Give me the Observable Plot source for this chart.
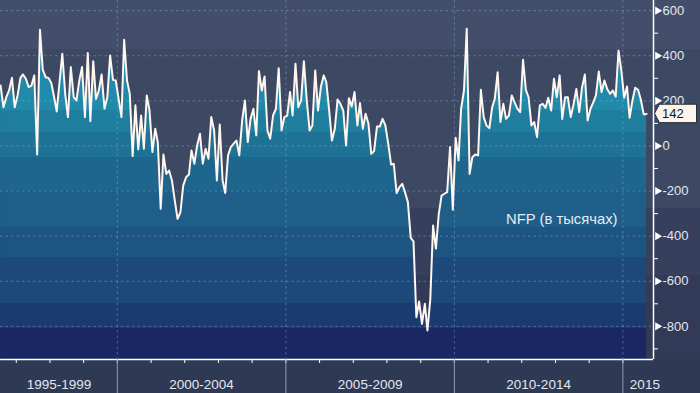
<!DOCTYPE html>
<html><head><meta charset="utf-8">
<script src="https://cdn.jsdelivr.net/npm/d3@7"></script>
<script src="https://cdn.jsdelivr.net/npm/@observablehq/plot@0.6"></script>
<style>html,body{margin:0;padding:0;background:#2e3954;overflow:hidden}</style>
</head><body><div id="chart"></div>
<script>
// Monthly NFP change (thousands), July 1996 – September 2015
const nfp1996 = [268,172,217,246,302,172];
const nfp1997 = [224,302,317,298,261,268,313,-38,515,338,305,302];
const nfp1998 = [279,217,153,283,409,231,128,350,217,202,290,350];
const nfp1999 = [128,412,110,376,209,246,317,165,217,401,293,290];
const nfp2000 = [209,128,471,290,231,-45,180,-15,135,-12,224,158];
const nfp2001 = [-27,76,16,-279,-38,-124,-109,-153,-242,-323,-294,-176];
const nfp2002 = [-139,-127,-20,-79,2,54,-79,-13,-57,128,69,-153];
const nfp2003 = [95,-153,-209,-42,-5,10,24,-42,113,202,17,120];
const nfp2004 = [165,47,332,246,308,69,32,135,165,345,69,128];
const nfp2005 = [135,239,135,364,172,202,376,202,69,91,335,157];
const nfp2006 = [261,313,283,157,24,76,206,187,157,2,212,175];
const nfp2007 = [239,91,190,76,143,98,-35,-23,86,86,120,91];
const nfp2008 = [10,-82,-79,-209,-183,-168,-205,-249,-408,-423,-760,-690];
const nfp2009 = [-789,-700,-818,-680,-353,-455,-305,-220,-212,-205,-5,-283];
const nfp2010 = [36,-64,165,246,520,-124,-50,-38,-42,249,128,91];
const nfp2011 = [79,172,209,327,106,187,120,135,224,194,165,150];
const nfp2012 = [382,249,216,91,106,39,180,187,169,214,157,298];
const nfp2013 = [216,313,120,216,216,128,184,253,150,258,317,113];
const nfp2014 = [165,194,224,330,239,290,253,231,246,219,423,335];
const nfp2015 = [214,264,125,202,258,249,205,140,142];

const startYear = 1996, startMonth = 7;
const periodLabels = ["1995-1999","2000-2004","2005-2009","2010-2014","2015"];
const periodStarts = [1995,2000,2005,2010,2015];
const yTicksMajor = [600,400,200,0,-200,-400,-600,-800];
const yTicksMinor = [500,300,100,-100,-300,-500,-700,-900];
const seriesLabel = "NFP (в тысячах)";

const values = [].concat(nfp1996,nfp1997,nfp1998,nfp1999,nfp2000,nfp2001,nfp2002,nfp2003,nfp2004,
  nfp2005,nfp2006,nfp2007,nfp2008,nfp2009,nfp2010,nfp2011,nfp2012,nfp2013,nfp2014,nfp2015);
const data = values.map((v,i)=>({date:new Date(Date.UTC(startYear,startMonth-1+i,15)), value:v}));
const lastValue = values[values.length-1];

// styling / layout
const W=700,H=393,mB=34,mR=47;
const x0 = new Date(Date.UTC(1996,6,14)), x1 = new Date(Date.UTC(2015,10,29));
const yMin=-947, yMax=645;
const font = "Liberation Sans, Arial, sans-serif";
const bgBands = [[Infinity,"#434f6a"],[428,"#3d4863"],[-277,"#363f5b"],[-574,"#313a56"]];
const tealBands = [[Infinity,"#2189a9"],[157,"#1f7d9e"],[60,"#1e7296"],[-51,"#1e668e"],[-197,"#1e5e88"],
  [-361,"#1d5582"],[-494,"#1c497a"],[-698,"#1b3b70"],[-809,"#1a2762"]];

const mid=(a,b)=>new Date((a.getTime()+b.getTime())/2);
const periods = periodLabels.map((label,i)=>{
  const s=new Date(Date.UTC(periodStarts[i],0,1)), e=new Date(Date.UTC(periodStarts[i]+5,0,1));
  return {label, start:s, end:e, x: mid(s<x0?x0:s, e)};
});
const fullPeriods = periods.filter(p=>p.end<=x1);
const partialPeriods = periods.filter(p=>p.end>x1);
const yearTicks = d3.utcYear.range(x0,x1);
const boundaries = periodStarts.map(y=>new Date(Date.UTC(y,0,1))).filter(d=>d>x0);
const grid = {stroke:"#86bde0", strokeOpacity:0.42, strokeDasharray:"2.5,3"};

const plot = Plot.plot({
  width:W, height:H, marginTop:0, marginLeft:0, marginRight:mR, marginBottom:mB,
  style:{background:"transparent", fontFamily:font, overflow:"visible"},
  x:{type:"utc", domain:[x0,x1], axis:null},
  y:{domain:[yMin,yMax], axis:null},
  marks:[
    Plot.areaY(data,{x:"date", y1:yMin, y2:"value", fill:"url(#tealBands)"}),
    Plot.ruleY(yTicksMajor,grid),
    Plot.ruleX(boundaries,grid),
    Plot.lineY(data,{x:"date", y:"value", stroke:"#fff6ef", strokeWidth:2, strokeLinejoin:"round"}),
    Plot.ruleY([yMin],{stroke:"#ffffff", strokeWidth:1.5}),
    Plot.ruleX([x1],{stroke:"#ffffff", strokeWidth:1.5}),
    Plot.ruleX(yearTicks,{stroke:"#ffffff", insetTop:H-mB, insetBottom:-4}),
    Plot.ruleX(boundaries,{stroke:"#959db0", insetTop:H-mB, insetBottom:-mB}),
    Plot.axisY({anchor:"right", label:null, ticks:yTicksMinor, tickSize:4, tickFormat:()=>"", color:"#ffffff"}),
    Plot.axisY({anchor:"right", label:null, ticks:yTicksMajor, tickSize:0, tickPadding:9, fontSize:13,
      tickFormat:d=>d<0?"-"+(-d):String(d), fill:"#e4e8ef"}),
    Plot.dot(yTicksMajor,{x:()=>x1, y:d=>d, symbol:"triangle", r:3, rotate:90, fill:"#ffffff", dx:4}),
    Plot.text(fullPeriods,{x:"x", text:"label", frameAnchor:"bottom", dy:29, fill:"#e4e8ef", fontSize:13.5}),
    Plot.text(partialPeriods,{x:"start", text:"label", frameAnchor:"bottom", dy:29, dx:7, textAnchor:"start",
      fill:"#e4e8ef", fontSize:13.5, ariaLabel:"partial-period"}),
    Plot.text([seriesLabel],{frameAnchor:"top-right", dx:-36, dy:219, textAnchor:"end", lineAnchor:"middle",
      fill:"#e8ecf2", fontSize:14.8})
  ]
});

const svg = d3.select(plot);
const yS = plot.scale("y"), xS = plot.scale("x");
const plotBottom = H-mB;
const defs = svg.insert("defs",":first-child");
function bands(id, list){
  const g = defs.append("linearGradient").attr("id",id).attr("gradientUnits","userSpaceOnUse")
    .attr("x1",0).attr("x2",0).attr("y1",0).attr("y2",plotBottom);
  list.forEach(([top,c],i)=>{
    const a = top===Infinity?0:yS.apply(top)/plotBottom;
    const b = i+1<list.length ? yS.apply(list[i+1][0])/plotBottom : 1;
    g.append("stop").attr("offset",a).attr("stop-color",c);
    g.append("stop").attr("offset",b).attr("stop-color",c);
  });
}
bands("bgBands",bgBands);
bands("tealBands",tealBands);
defs.append("clipPath").attr("id","axisClip").append("rect")
  .attr("x",0).attr("y",plotBottom).attr("width",xS.apply(x1)).attr("height",mB);
const ns="http://www.w3.org/2000/svg";
const bgTop=document.createElementNS(ns,"rect");
bgTop.setAttribute("x",0);bgTop.setAttribute("y",0);bgTop.setAttribute("width",W);bgTop.setAttribute("height",plotBottom);
bgTop.setAttribute("fill","url(#bgBands)");
const bgBot=document.createElementNS(ns,"rect");
bgBot.setAttribute("x",0);bgBot.setAttribute("y",plotBottom);bgBot.setAttribute("width",W);bgBot.setAttribute("height",mB);
bgBot.setAttribute("fill","#2e3954");
plot.insertBefore(bgBot, defs.node().nextSibling);
plot.insertBefore(bgTop, defs.node().nextSibling);
svg.select('g[aria-label="partial-period"]').attr("clip-path","url(#axisClip)");

// last value badge
const xa = xS.apply(x1), yv = yS.apply(lastValue);
const bx0 = xa + 1.5, bx1 = xa + 6.5, bx2 = W - 3.5;
const pts = [[bx0,yv],[bx1,yv-9.2],[bx2,yv-9.2],[bx2,yv+9.2],[bx1,yv+9.2]].map(p=>p.join(",")).join(" ");
const badge = svg.append("g").attr("text-anchor","start");
badge.append("polygon").attr("points",pts)
  .attr("fill","#fdf4ec").attr("stroke","#2a2d33").attr("stroke-width",1);
badge.append("text").attr("x",bx1+2.5).attr("y",yv).attr("dy","0.36em").attr("text-anchor","start")
  .attr("font-family",font).attr("font-size",13).attr("fill","#151515").text(String(lastValue));

document.getElementById("chart").appendChild(plot);
</script></body></html>
